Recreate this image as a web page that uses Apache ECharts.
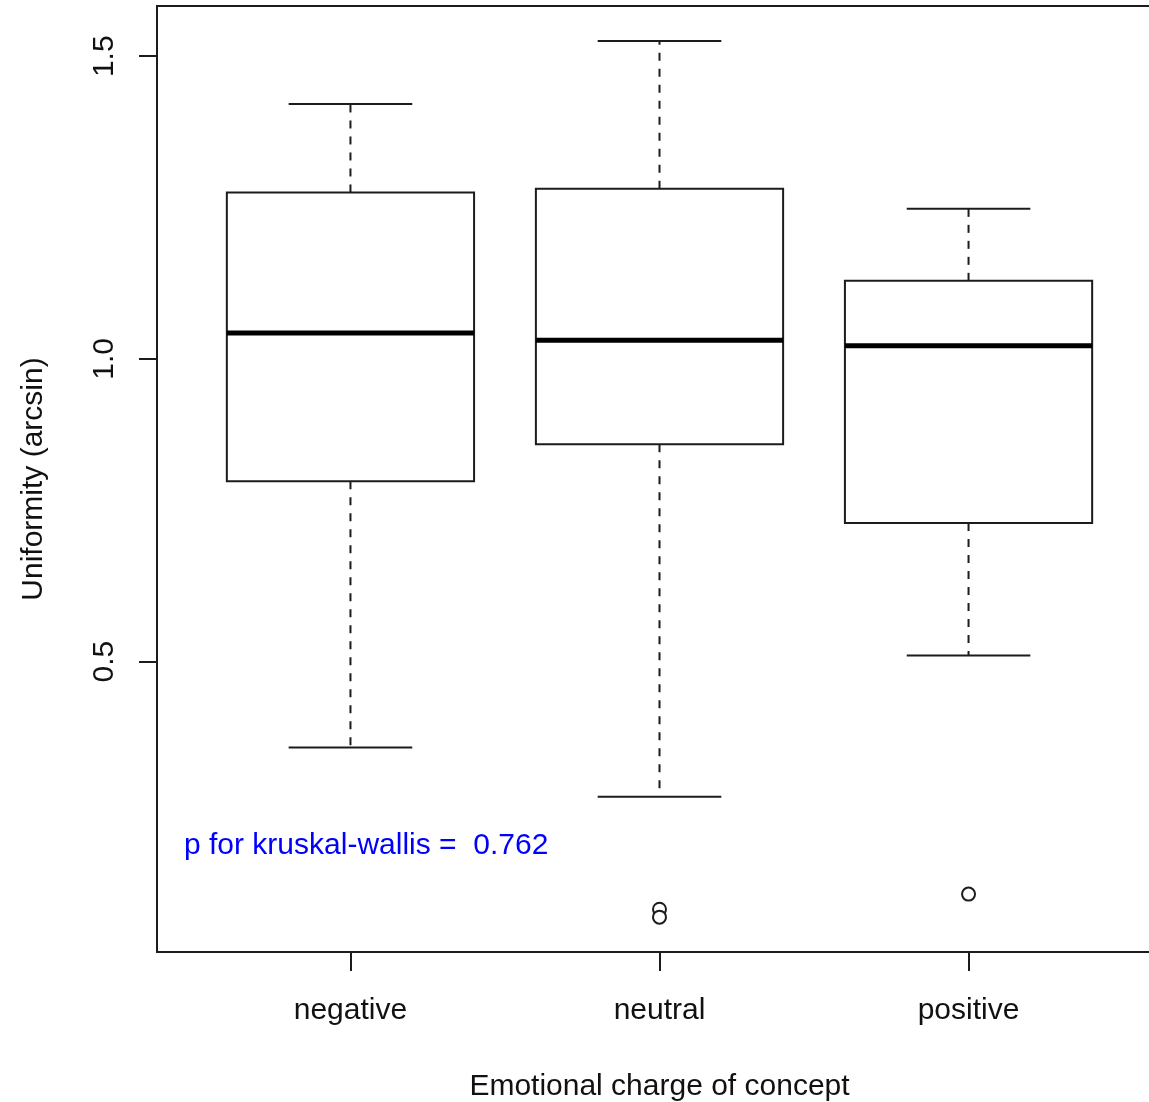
<!DOCTYPE html>
<html>
<head>
<meta charset="utf-8">
<title>Uniformity by emotional charge</title>
<script src="https://cdn.jsdelivr.net/npm/echarts@6/dist/echarts.min.js"></script>
<style>
  html, body { margin: 0; padding: 0; background: #ffffff; }
  #chart { width: 1149px; height: 1102px; }
</style>
</head>
<body>
<div id="chart"></div>
<script>
// Groups and their five-number summaries (arcsin-transformed uniformity)
const categories = ['negative', 'neutral', 'positive'];
const whiskerLow  = [0.358, 0.277, 0.510];
const quartile1   = [0.798, 0.859, 0.729];
const medians     = [1.043, 1.031, 1.022];
const quartile3   = [1.275, 1.281, 1.129];
const whiskerHigh = [1.421, 1.525, 1.248];

// Points beyond the whiskers: [group index (1-based), value]
const outliers = [[2, 0.091], [2, 0.078], [3, 0.116]];

// Axis ticks
const yTicks = [0.5, 1.0, 1.5];
const xTicks = [1, 2, 3];

const pText = 'p for kruskal-wallis =  0.762';

const FONT = 'Liberation Sans, Arial, sans-serif';
const INK = '#1c1c1c';

const boxData = categories.map((c, i) => [i + 1, whiskerLow[i], quartile1[i], medians[i], quartile3[i], whiskerHigh[i]]);

function renderBox(params, api) {
  const x = api.value(0);
  const lo = api.value(1), q1 = api.value(2), md = api.value(3), q3 = api.value(4), hi = api.value(5);
  const half = 0.4, cap = 0.2;
  const pLo = api.coord([x, lo]), pQ1 = api.coord([x, q1]), pQ3 = api.coord([x, q3]), pHi = api.coord([x, hi]);
  const left = api.coord([x - half, md])[0], right = api.coord([x + half, md])[0];
  const yMd = api.coord([x, md])[1];
  const cL = api.coord([x - cap, lo])[0], cR = api.coord([x + cap, lo])[0];
  const solid = { stroke: INK, lineWidth: 2, fill: null };
  const dashed = { stroke: INK, lineWidth: 2, lineDash: [8, 8], fill: null };
  return {
    type: 'group',
    children: [
      { type: 'line', shape: { x1: pQ3[0], y1: pQ3[1], x2: pHi[0], y2: pHi[1] }, style: dashed },
      { type: 'line', shape: { x1: pQ1[0], y1: pQ1[1], x2: pLo[0], y2: pLo[1] }, style: dashed },
      { type: 'line', shape: { x1: cL, y1: pHi[1], x2: cR, y2: pHi[1] }, style: solid },
      { type: 'line', shape: { x1: cL, y1: pLo[1], x2: cR, y2: pLo[1] }, style: solid },
      { type: 'rect', shape: { x: left, y: pQ3[1], width: right - left, height: pQ1[1] - pQ3[1] },
        style: { stroke: INK, lineWidth: 2, fill: '#ffffff' } },
      { type: 'line', shape: { x1: left, y1: yMd, x2: right, y2: yMd }, style: { stroke: '#000', lineWidth: 5 } }
    ]
  };
}

const chart = echarts.init(document.getElementById('chart'), null, { renderer: 'canvas' });

chart.setOption({
  animation: false,
  backgroundColor: '#ffffff',
  textStyle: { fontFamily: FONT },
  grid: {
    left: 157, top: 6, width: 1005, height: 946,
    outerBoundsMode: 'none', containLabel: false,
    show: true, borderColor: INK, borderWidth: 2, backgroundColor: 'transparent'
  },
  xAxis: {
    type: 'value',
    min: 0.374, max: 3.626,
    splitLine: { show: false },
    axisLine: { show: false },
    axisTick: { show: true, customValues: xTicks, length: 19, lineStyle: { color: INK, width: 2 } },
    axisLabel: {
      customValues: xTicks, margin: 44,
      fontSize: 30, fontFamily: FONT, color: '#111',
      formatter: v => categories[Math.round(v) - 1]
    },
    name: 'Emotional charge of concept',
    nameLocation: 'middle', nameGap: 120,
    nameTextStyle: { fontSize: 30, fontFamily: FONT, color: '#111' }
  },
  yAxis: {
    type: 'value',
    min: 0.0204, max: 1.583,
    splitLine: { show: false },
    axisLine: { show: false },
    axisTick: { show: true, customValues: yTicks, length: 18, lineStyle: { color: INK, width: 2 } },
    axisLabel: {
      customValues: yTicks, rotate: 90, margin: 37,
      fontSize: 30, fontFamily: FONT, color: '#111',
      formatter: v => v.toFixed(1)
    },
    name: 'Uniformity (arcsin)',
    nameLocation: 'middle', nameGap: 108, nameRotate: 90,
    nameTextStyle: { fontSize: 30, fontFamily: FONT, color: '#111' }
  },
  graphic: [{
    type: 'text', left: 184, top: 831,
    style: { text: pText, fontSize: 30, fontFamily: FONT, fill: '#0000ff' }
  }],
  series: [
    {
      type: 'custom',
      renderItem: renderBox,
      encode: { x: 0, y: [1, 2, 3, 4, 5] },
      data: boxData,
      clip: false
    },
    {
      type: 'scatter',
      symbol: 'emptyCircle',
      symbolSize: 13,
      itemStyle: { color: INK, borderColor: INK, borderWidth: 1.8, opacity: 1 },
      data: outliers
    }
  ]
});
</script>
</body>
</html>
